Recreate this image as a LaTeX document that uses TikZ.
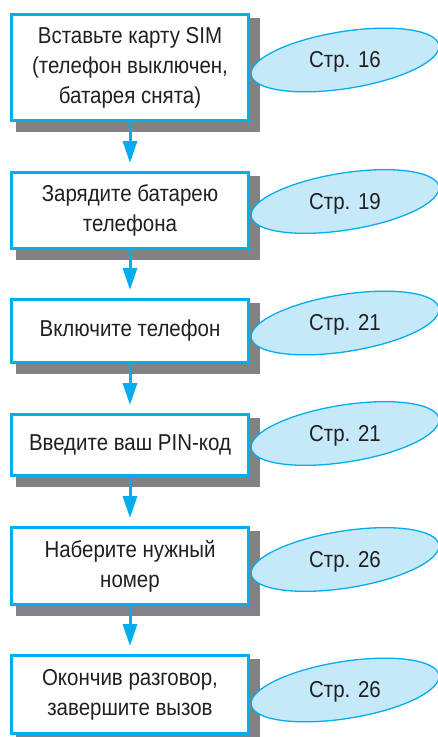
\documentclass[tikz,border=0pt]{standalone}
\usepackage{fontspec}
\setmainfont{Liberation Sans}[FakeStretch=0.89]
\usetikzlibrary{arrows.meta,shapes.geometric,backgrounds}
\definecolor{cy}{HTML}{00AEEF}
\definecolor{lcy}{HTML}{C6E9F9}
\definecolor{shd}{HTML}{808285}
\definecolor{ink}{HTML}{231F20}
\begin{document}
\begin{tikzpicture}[x=1pt,y=-1pt,
  stepbox/.style={draw=cy, line width=3pt, fill=white, minimum width=237pt, inner sep=0pt, align=center, font=\fontsize{23}{30}\selectfont, text=ink},
  pageoval/.style={ellipse, draw=cy, line width=1.3pt, fill=lcy, minimum width=190pt, minimum height=57pt, rotate=9, inner sep=0pt},
  pagetext/.style={font=\fontsize{23}{28}\selectfont, text=ink},
  flow/.style={draw=cy, line width=3pt, shorten >=8pt, -{Triangle[length=22pt,width=14pt]}},
  shadowfill/.style={fill=shd}
]
\useasboundingbox (0,0) rectangle (437,737);

\node[stepbox, minimum height=106pt] (b1) at (130,67.5) {Вставьте карту SIM\\(телефон выключен,\\батарея снята)};
\node[stepbox, minimum height=76pt] (b2) at (130,210.5) {Зарядите батарею\\телефона};
\node[stepbox, minimum height=63pt] (b3) at (130,331) {Включите телефон};
\node[stepbox, minimum height=61pt] (b4) at (130,445) {Введите ваш PIN-код};
\node[stepbox, minimum height=77pt] (b5) at (130,566) {Наберите нужный\\номер};
\node[stepbox, minimum height=78pt] (b6) at (130,694.5) {Окончив разговор,\\завершите вызов};

\begin{scope}[on background layer]
\foreach \b in {b1,b2,b3,b4,b5,b6}{
  \fill[shadowfill] ([shift={(6,5)}]\b.north west) rectangle ([shift={(10,10)}]\b.south east);
}
\end{scope}

\draw[flow] (b1.south) -- (b2.north);
\draw[flow] (b2.south) -- (b3.north);
\draw[flow] (b3.south) -- (b4.north);
\draw[flow] (b4.south) -- (b5.north);
\draw[flow] (b5.south) -- (b6.north);

\node[pageoval] (e1) at (345,60) {};
\node[pageoval] (e2) at (345,201.5) {};
\node[pageoval] (e3) at (345,323) {};
\node[pageoval] (e4) at (345,433.5) {};
\node[pageoval] (e5) at (345,559.5) {};
\node[pageoval] (e6) at (345,690) {};

\node[pagetext] (p1) at ([yshift=-2pt]e1.center) {Стр. 16};
\node[pagetext] (p2) at ([yshift=-2pt]e2.center) {Стр. 19};
\node[pagetext] (p3) at ([yshift=-2pt]e3.center) {Стр. 21};
\node[pagetext] (p4) at ([yshift=-2pt]e4.center) {Стр. 21};
\node[pagetext] (p5) at ([yshift=-2pt]e5.center) {Стр. 26};
\node[pagetext] (p6) at ([yshift=-2pt]e6.center) {Стр. 26};
\end{tikzpicture}
\end{document}
